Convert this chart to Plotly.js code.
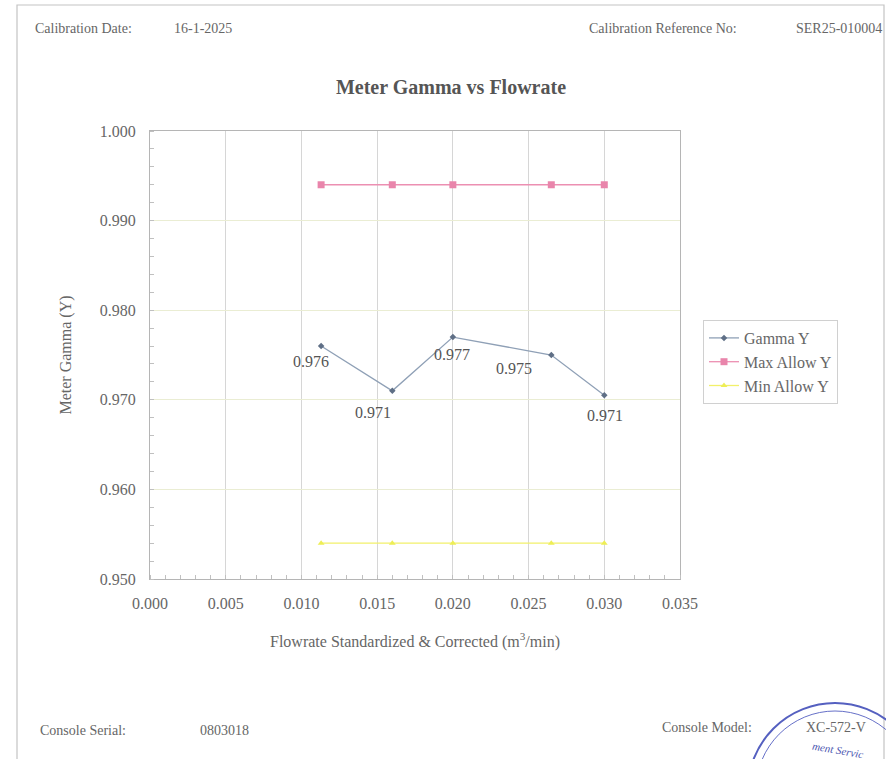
<!DOCTYPE html>
<html>
<head>
<meta charset="utf-8">
<script src="https://cdn.plot.ly/plotly-3.0.1.min.js"></script>
<style>html,body{margin:0;padding:0;background:#fff;}#chart{width:886px;height:759px;}</style>
</head>
<body>
<div id="chart"></div>
<script>
// ---- data ----
const flowrate = [0.0113, 0.0160, 0.0200, 0.0265, 0.0300];
const gammaY = [0.976, 0.971, 0.977, 0.975, 0.9705];
const gammaLabels = ["0.976", "0.971", "0.977", "0.975", "0.971"];
const maxAllowY = [0.994, 0.994, 0.994, 0.994, 0.994];
const minAllowY = [0.954, 0.954, 0.954, 0.954, 0.954];
const seriesNames = ["Gamma Y", "Max Allow Y", "Min Allow Y"];
const xTicks = [0, 0.005, 0.010, 0.015, 0.020, 0.025, 0.030, 0.035];
const yTicks = [0.950, 0.960, 0.970, 0.980, 0.990, 1.000];

// ---- styling ----
const FONT = "Liberation Serif, serif";
const GREY = "#666";
// pixel offsets of each data label from its point (label placement only)
const labelShift = [[-10, -15], [-19, -22], [-1, -17], [-37, -13], [1, -20]];

// paper-coordinate helpers from pixel positions (plot area 150..680 x 131..579)
const L = 150, R = 680, T = 131, B = 579;
const px = v => (v - L) / (R - L);
const py = v => (B - v) / (B - T);

const traces = [
  {x: flowrate, y: gammaY, name: seriesNames[0], mode: "lines+markers",
   line: {color: "#8fa0b6", width: 1.3}, marker: {color: "#5f6f86", size: 5, symbol: "diamond"}},
  {x: flowrate, y: maxAllowY, name: seriesNames[1], mode: "lines+markers",
   line: {color: "#ec8fb2", width: 1.3}, marker: {color: "#e985ab", size: 7, symbol: "square"}},
  {x: flowrate, y: minAllowY, name: seriesNames[2], mode: "lines+markers",
   line: {color: "#f2f06a", width: 1.3}, marker: {color: "#eeee55", size: 6, symbol: "triangle-up"}}
];

const ann = (text, x, y, xanchor, size, extra) => Object.assign({
  text: text, xref: "paper", yref: "paper", x: px(x), y: py(y), xanchor: xanchor, yanchor: "middle",
  showarrow: false, font: {family: FONT, size: size, color: GREY}}, extra || {});

const dataLabels = flowrate.map((xv, i) => ({
  text: gammaLabels[i], x: xv, y: gammaY[i], xref: "x", yref: "y",
  xanchor: "center", yanchor: "middle", showarrow: false,
  xshift: labelShift[i][0], yshift: labelShift[i][1],
  font: {family: FONT, size: 16, color: "#555"}
}));

const layout = {
  width: 886, height: 759,
  margin: {l: L, r: 886 - R, t: T, b: 759 - B},
  paper_bgcolor: "#fff", plot_bgcolor: "#fff",
  font: {family: FONT, color: GREY},
  title: {text: "<b>Meter Gamma vs Flowrate</b>", x: 451 / 886, xanchor: "center",
          y: 1 - 87 / 759, yanchor: "middle", yref: "container",
          font: {family: FONT, size: 20, color: "#555"}},
  xaxis: {range: [0, 0.035], tickvals: xTicks, tickformat: ".3f",
          showgrid: true, gridcolor: "#d6d6d6", gridwidth: 1,
          showline: true, linecolor: "#b5b5b5", linewidth: 1, mirror: true,
          ticks: "", zeroline: false, ticklabelstandoff: 10,
          tickfont: {family: FONT, size: 16, color: GREY},
          minor: {dtick: 0.001, ticks: "inside", ticklen: 4, tickcolor: "#c0c0c0", showgrid: false},
          title: {text: "Flowrate Standardized &amp; Corrected (m<sup>3</sup>/min)", standoff: 24,
                  font: {family: FONT, size: 16, color: GREY}}},
  yaxis: {range: [0.950, 1.000], tickvals: yTicks, tickformat: ".3f",
          showgrid: true, gridcolor: "#eaedd3", gridwidth: 1,
          showline: true, linecolor: "#b5b5b5", linewidth: 1, mirror: true,
          ticks: "", zeroline: false, ticklabelstandoff: 10,
          tickfont: {family: FONT, size: 16, color: GREY},
          minor: {dtick: 0.002, ticks: "inside", ticklen: 4, tickcolor: "#c0c0c0", showgrid: false},
          title: {text: "Meter Gamma (Y)", standoff: 24,
                  font: {family: FONT, size: 16, color: GREY}}},
  showlegend: true,
  legend: {x: px(703), y: py(320), xanchor: "left", yanchor: "top",
           bgcolor: "#fff", bordercolor: "#d0d0d0", borderwidth: 1,
           font: {family: FONT, size: 16, color: GREY}, itemwidth: 30, tracegroupgap: 0},
  annotations: [
    ann("Calibration Date:", 33, 28, "left", 14),
    ann("16-1-2025", 172, 28, "left", 14),
    ann("Calibration Reference No:", 587, 28, "left", 14),
    ann("SER25-010004", 884, 28, "right", 14),
    ann("Console Serial:", 38, 730, "left", 14),
    ann("0803018", 198, 730, "left", 14),
    ann("Console Model:", 660, 727, "left", 14),
    ann("XC-572-V", 868, 727, "right", 14),
    ann("<i>ment Servic</i>", 838, 750, "center", 11, {font: {family: FONT, size: 11, color: "#4a55b0"}, textangle: 10})
  ].concat(dataLabels),
  shapes: [
    {type: "rect", xref: "paper", yref: "paper", x0: px(17), x1: px(884), y0: py(800), y1: py(5),
     line: {color: "#c4c4c4", width: 1.2}, layer: "below"},
    {type: "circle", xref: "paper", yref: "paper", x0: px(748), x1: px(922), y0: py(877), y1: py(703),
     line: {color: "#5560c0", width: 2}},
    {type: "circle", xref: "paper", yref: "paper", x0: px(756), x1: px(914), y0: py(869), y1: py(711),
     line: {color: "#6670c8", width: 1}}
  ]
};

Plotly.newPlot("chart", traces, layout, {displayModeBar: false, staticPlot: true});
</script>
</body>
</html>
